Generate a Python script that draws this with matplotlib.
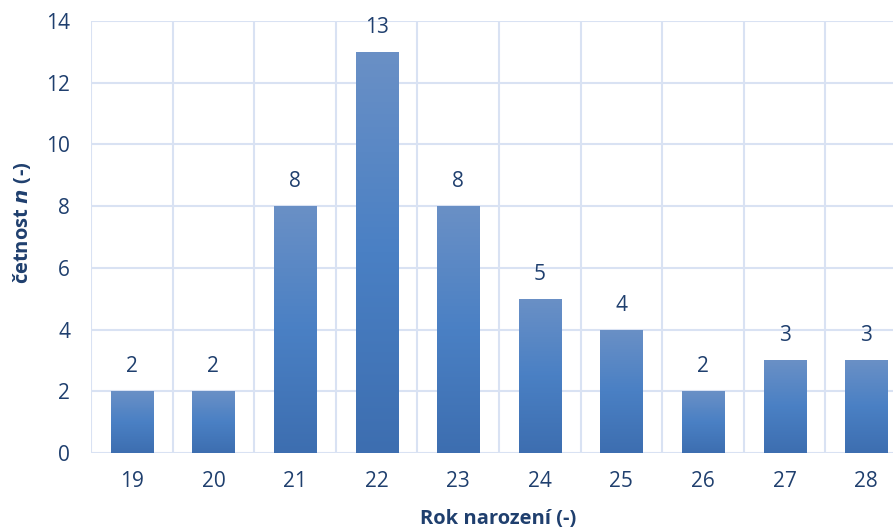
import matplotlib.pyplot as plt
import numpy as np
from matplotlib.colors import LinearSegmentedColormap

years = ['19', '20', '21', '22', '23', '24', '25', '26', '27', '28']
counts = [2, 2, 8, 13, 8, 5, 4, 2, 3, 3]

text_col = '#1f3f6e'
grid_col = '#d9e2f3'

plt.rcParams['font.family'] = ['Open Sans', 'DejaVu Sans']

fig = plt.figure(figsize=(8.93, 5.31), dpi=100)
# plot area runs a little past the right border of the figure
ax = fig.add_axes([0.1019, 0.1469, 1.0157 - 0.1019, 0.9605 - 0.1469])

x = np.arange(len(years))
width = 0.515
bars = ax.bar(x, counts, width=width, color='#4a7ec1', zorder=2)

# vertical gradient on each bar: light at top, darker at bottom
cmap = LinearSegmentedColormap.from_list('barfill', ['#3d6eb0', '#4a80c4', '#6a90c6'])
grad = np.linspace(0, 1, 256).reshape(-1, 1)
for b in bars:
    x0 = b.get_x()
    h = b.get_height()
    im = ax.imshow(grad, cmap=cmap, origin='lower', aspect='auto',
                   extent=(x0, x0 + b.get_width(), 0, h), zorder=3)
    im.set_clip_path(b)

for xi, v in zip(x, counts):
    ax.annotate(str(v), (xi, v), xytext=(0, 19), textcoords='offset pixels',
                ha='center', va='baseline', fontsize=15, color=text_col)

ax.set_xlim(-0.5, len(years) - 0.5)
ax.set_ylim(0, 14)
ax.set_yticks(range(0, 15, 2))
ax.set_xticks(x)
ax.set_xticklabels(years)
ax.set_xticks(np.arange(-0.5, len(years), 1), minor=True)

ax.grid(True, which='major', axis='y', color=grid_col, lw=1.5, zorder=0)
ax.grid(True, which='minor', axis='x', color=grid_col, lw=1.5, zorder=0)
ax.set_axisbelow(True)

for s in ax.spines.values():
    s.set_visible(False)

ax.tick_params(which='both', length=0)
ax.tick_params(axis='x', pad=13, labelsize=15, labelcolor=text_col)
ax.tick_params(axis='y', pad=15, labelsize=15, labelcolor=text_col)

fig.text(498 / 893, 1 - 519 / 531, 'Rok narození (-)', ha='center', va='center',
         fontsize=14.5, fontweight='bold', color=text_col)
fig.text(22 / 893, 1 - 223 / 531, 'četnost $\\mathbfit{n}$ (-)', rotation=90,
         ha='center', va='center', fontsize=14.5, fontweight='bold', color=text_col)

fig.savefig('out.png', dpi=100)
